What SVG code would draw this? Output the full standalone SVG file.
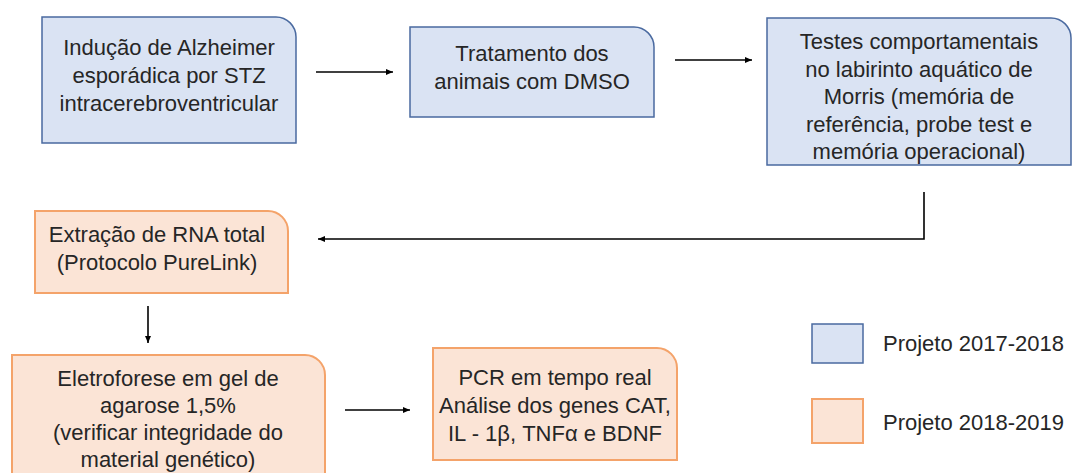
<svg xmlns="http://www.w3.org/2000/svg" width="1072" height="473" viewBox="0 0 1072 473">
<defs>
<marker id="ah" markerUnits="userSpaceOnUse" markerWidth="8" markerHeight="8" refX="7" refY="4" orient="auto">
<path d="M0,1 L7,4 L0,7 Z" fill="#000"/>
</marker>
<style>
.blue{fill:#DAE3F3;stroke:#4A6AA0;stroke-width:1.5}
.orange{fill:#FBE4D6;stroke:#F4A36A;stroke-width:2}
.t{font-family:"Liberation Sans",Arial,sans-serif;font-size:22px;fill:#262626;text-anchor:middle}
.lg{font-family:"Liberation Sans",Arial,sans-serif;font-size:22px;fill:#262626}
.c{fill:none;stroke:#000;stroke-width:1.6}
</style>
</defs>
<rect width="1072" height="473" fill="#fff"/>
<g id="n1">
<path class="blue" d="M42,17 H276 A20,20 0 0 1 296,37 V143 H42 Z"/>
<text class="t" x="169" y="55">Indução de Alzheimer</text>
<text class="t" x="169" y="83">esporádica por STZ</text>
<text class="t" x="169" y="111">intracerebroventricular</text>
</g>
<g id="n2">
<path class="blue" d="M410,27 H634 A20,20 0 0 1 654,47 V117 H410 Z"/>
<text class="t" x="532" y="61">Tratamento dos</text>
<text class="t" x="532" y="89">animais com DMSO</text>
</g>
<g id="n3">
<path class="blue" d="M767,18 H1051 A20,20 0 0 1 1071,38 V165 H767 Z"/>
<text class="t" x="919" y="49">Testes comportamentais</text>
<text class="t" x="919" y="77">no labirinto aquático de</text>
<text class="t" x="919" y="104">Morris (memória de</text>
<text class="t" x="919" y="132">referência, probe test e</text>
<text class="t" x="919" y="159">memória operacional)</text>
</g>
<g id="n4">
<path class="orange" d="M35,211 H268 A20,20 0 0 1 288,231 V293 H35 Z"/>
<text class="t" x="157" y="242">Extração de RNA total</text>
<text class="t" x="157" y="270">(Protocolo PureLink)</text>
</g>
<g id="n5">
<path class="orange" d="M12,355 H305 A20,20 0 0 1 325,375 V485 H12 Z"/>
<text class="t" x="168" y="386">Eletroforese em gel de</text>
<text class="t" x="168" y="413">agarose 1,5%</text>
<text class="t" x="168" y="440">(verificar integridade do</text>
<text class="t" x="168" y="467">material genético)</text>
</g>
<g id="n6">
<path class="orange" d="M433,348 H657 A20,20 0 0 1 677,368 V460 H433 Z"/>
<text class="t" x="555" y="385">PCR em tempo real</text>
<text class="t" x="555" y="413">Análise dos genes CAT,</text>
<text class="t" x="555" y="441">IL - 1β, TNFα e BDNF</text>
</g>
<g id="legend">
<rect class="blue" x="812" y="324" width="51" height="39"/>
<text class="lg" x="883" y="351">Projeto 2017-2018</text>
<rect class="orange" x="812" y="399" width="51" height="44"/>
<text class="lg" x="883" y="430">Projeto 2018-2019</text>
</g>
<g id="connectors">
<line class="c" x1="316" y1="72" x2="393" y2="72" marker-end="url(#ah)"/>
<line class="c" x1="675" y1="60" x2="752" y2="60" marker-end="url(#ah)"/>
<polyline class="c" points="924,192 924,239 318,239" marker-end="url(#ah)"/>
<line class="c" x1="148" y1="306" x2="148" y2="343" marker-end="url(#ah)"/>
<line class="c" x1="345" y1="410" x2="410" y2="410" marker-end="url(#ah)"/>
</g>
</svg>
